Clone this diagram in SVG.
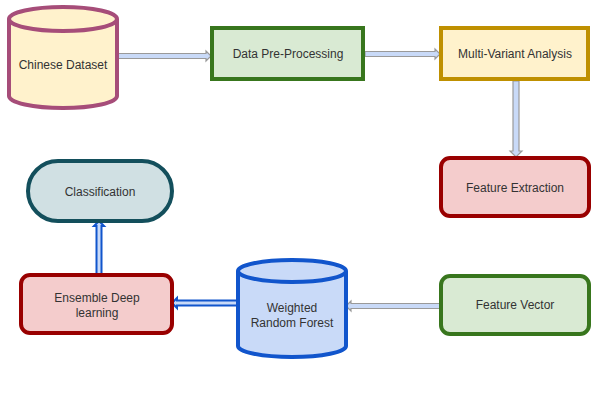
<svg xmlns="http://www.w3.org/2000/svg" width="592" height="410" viewBox="0 0 592 410">
<style>
text{font-family:"Liberation Sans",Arial,sans-serif;font-size:12px;fill:#333;text-anchor:middle}
.ga{fill:#c9daf8;stroke:#9a9a9a;stroke-width:1.2;stroke-linejoin:miter}
.ba{fill:#c9daf8;stroke:#1155cc;stroke-width:2;stroke-linejoin:miter}
</style>
<rect width="592" height="410" fill="#fff"/>
<g id="connectors">
<polygon class="ga" points="118,53.5 206,53.5 206,51 211,56 206,61 206,58.5 118,58.5"/>
<polygon class="ga" points="365,51.5 435,51.5 435,49 440,54 435,59 435,56.5 365,56.5"/>
<polygon class="ga" points="513,81 519,81 519,151 522,151 516,157 510,151 513,151"/>
<polygon class="ga" points="440,303.5 351,303.5 351,301 346,306 351,311 351,308.5 440,308.5"/>
<polygon class="ba" points="237,300.5 177,300.5 177,298 172,303 177,308 177,305.5 237,305.5"/>
<polygon class="ba" points="96.5,274 96.5,226 94,226 99,221 104,226 101.5,226 101.5,274"/>
</g>
<g id="chinese-dataset">
<path d="M9,19 A54,12 0 0 1 117,19 L117,96 A54,12 0 0 1 9,96 Z" fill="#fff2cc" stroke="#a64d79" stroke-width="4"/>
<path d="M9,19 A54,12 0 0 0 117,19" fill="none" stroke="#a64d79" stroke-width="4"/>
<text x="63" y="69">Chinese Dataset</text>
</g>
<g id="data-preprocessing">
<rect x="212" y="28" width="151" height="51" fill="#d9ead3" stroke="#38761d" stroke-width="4"/>
<text x="288" y="58">Data Pre-Processing</text>
</g>
<g id="multi-variant">
<rect x="441" y="28" width="147" height="51" fill="#fff2cc" stroke="#bf9000" stroke-width="4"/>
<text x="515" y="58">Multi-Variant Analysis</text>
</g>
<g id="feature-extraction">
<rect x="441" y="158" width="148" height="58" rx="9" fill="#f4cccc" stroke="#990000" stroke-width="4"/>
<text x="515" y="192">Feature Extraction</text>
</g>
<g id="feature-vector">
<rect x="441" y="276" width="148" height="58" rx="9" fill="#d9ead3" stroke="#38761d" stroke-width="4"/>
<text x="515" y="309">Feature Vector</text>
</g>
<g id="weighted-random-forest">
<path d="M238,271 A54,11 0 0 1 346,271 L346,346 A54,11 0 0 1 238,346 Z" fill="#c9daf8" stroke="#1155cc" stroke-width="4"/>
<path d="M238,271 A54,11 0 0 0 346,271" fill="none" stroke="#1155cc" stroke-width="4"/>
<text x="292" y="312">Weighted</text>
<text x="292" y="327">Random Forest</text>
</g>
<g id="ensemble">
<rect x="21" y="275" width="151" height="58" rx="9" fill="#f4cccc" stroke="#990000" stroke-width="4"/>
<text x="97" y="302">Ensemble Deep</text>
<text x="97" y="317">learning</text>
</g>
<g id="classification">
<rect x="28" y="161" width="144" height="60" rx="30" fill="#d0e0e3" stroke="#134f5c" stroke-width="4"/>
<text x="100" y="196">Classification</text>
</g>
</svg>
